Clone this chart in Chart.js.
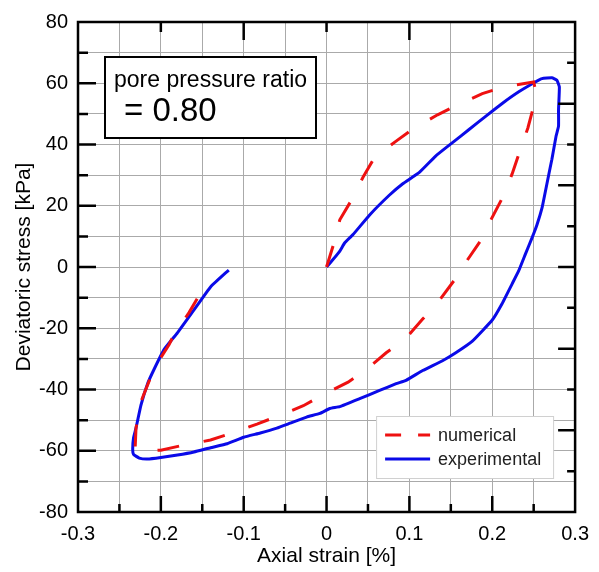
<!DOCTYPE html>
<html>
<head>
<meta charset="utf-8">
<script src="https://cdn.jsdelivr.net/npm/chart.js@4.4.0/dist/chart.umd.min.js"></script>
<style>
  html, body { margin: 0; padding: 0; background: #fff; }
  #wrap { width: 599px; height: 572px; }
</style>
</head>
<body>
<div id="wrap"><canvas id="loop"></canvas></div>
<script>
// axial strain [%] / deviatoric stress [kPa]
const strainExp = [0, 0.008, 0.016, 0.022, 0.032, 0.052, 0.076, 0.092, 0.112, 0.132, 0.152, 0.172, 0.192, 0.212, 0.232, 0.252, 0.260, 0.272, 0.278, 0.281, 0.280, 0.280, 0.277, 0.272, 0.268, 0.264, 0.260, 0.254, 0.248, 0.240, 0.232, 0.224, 0.212, 0.200, 0.176, 0.156, 0.140, 0.116, 0.096, 0.084, 0.064, 0.040, 0.016, 0.004, -0.008, -0.024, -0.044, -0.060, -0.080, -0.100, -0.120, -0.140, -0.160, -0.180, -0.200, -0.216, -0.226, -0.233, -0.234, -0.233, -0.230, -0.224, -0.216, -0.208, -0.196, -0.180, -0.160, -0.140, -0.118];
const stressExp = [0, 2.5, 5.2, 7.9, 10.6, 17, 23.5, 27.2, 30.9, 36.3, 40.6, 44.9, 49.2, 53.4, 57.2, 60.4, 61.5, 61.8, 61, 58.8, 51.3, 46, 42.7, 35.2, 29.9, 24.5, 19.2, 13.8, 9.5, 4.2, -1.2, -5.5, -11.9, -17.3, -24.2, -28, -30.6, -33.8, -37, -38.1, -40.3, -43, -45.6, -46.2, -47.8, -49, -51, -52.6, -54.2, -55.6, -57.7, -59, -60.4, -61.4, -62.2, -62.7, -62.4, -61.2, -59.5, -55.8, -52.6, -45.1, -38.1, -33.3, -26.9, -21.5, -14, -6.5, -1];

const strainNum = [0, 0.008, 0.016, 0.030, 0.044, 0.058, 0.084, 0.106, 0.134, 0.158, 0.188, 0.214, 0.250, 0.252, 0.252, 0.243, 0.234, 0.224, 0.214, 0.199, 0.187, 0.168, 0.154, 0.134, 0.116, 0.095, 0.072, 0.048, 0.026, -0.004, -0.028, -0.058, -0.084, -0.116, -0.140, -0.173, -0.200, -0.226, -0.231, -0.230, -0.224, -0.208, -0.190, -0.184, -0.166, -0.153];
const stressNum = [0, 7, 15.4, 21.8, 29.3, 35.8, 41.1, 45.4, 49.7, 52.9, 56.6, 58.8, 60.4, 58, 54.5, 45.4, 38.4, 30.4, 23.5, 15.7, 9, 1.5, -4.4, -11.7, -17, -23.5, -28, -33.5, -37.6, -41.7, -45.3, -48.6, -51.3, -54.4, -56.5, -58.2, -59.8, -60.2, -59, -52.6, -44, -33, -25.3, -22, -14.9, -8.9];

const seriesNames = ['numerical', 'experimental'];
const noteLines = ['pore pressure ratio', '= 0.80'];

const FONT = "'Liberation Sans', Arial, sans-serif";

function pairs(xs, ys) {
    return xs.map((x, i) => ({ x: x, y: ys[i] }));
}

// frame, inward tick marks, text box and legend
const decorations = {
    id: 'decorations',
    afterDraw(chart) {
        const ctx = chart.ctx;
        const area = chart.chartArea;
        const xs = chart.scales.x;
        const ys = chart.scales.y;
        ctx.save();

        ctx.strokeStyle = '#000';
        ctx.lineWidth = 2.5;
        ctx.beginPath();
        // bottom: long at 0.1, short at 0.05
        for (let k = -5; k <= 5; k++) {
            const px = xs.getPixelForValue(k * 0.05);
            const len = k % 2 === 0 ? 16 : 8;
            ctx.moveTo(px, area.bottom);
            ctx.lineTo(px, area.bottom - len);
        }
        // top: every 0.1, alternating
        for (let k = -2; k <= 2; k++) {
            const px = xs.getPixelForValue(k * 0.1);
            const len = Math.abs(k) % 2 === 1 ? 18 : 10;
            ctx.moveTo(px, area.top);
            ctx.lineTo(px, area.top + len);
        }
        // left: long at 20, short at 10
        for (let k = -7; k <= 7; k++) {
            const py = ys.getPixelForValue(k * 10);
            const len = k % 2 === 0 ? 18 : 10;
            ctx.moveTo(area.left, py);
            ctx.lineTo(area.left + len, py);
        }
        // right: steps of 80/6
        for (let k = -5; k <= 5; k++) {
            const py = ys.getPixelForValue(k * 80 / 6);
            const len = k % 2 === 0 ? 17 : 8;
            ctx.moveTo(area.right, py);
            ctx.lineTo(area.right - len, py);
        }
        ctx.stroke();

        ctx.lineWidth = 2.5;
        ctx.strokeRect(area.left, area.top, area.right - area.left, area.bottom - area.top);

        // text box
        const bx = area.left + 27, by = area.top + 35;
        ctx.fillStyle = '#fff';
        ctx.fillRect(bx, by, 211, 81);
        ctx.lineWidth = 2;
        ctx.strokeRect(bx, by, 211, 81);
        ctx.fillStyle = '#000';
        ctx.textBaseline = 'alphabetic';
        ctx.textAlign = 'left';
        ctx.font = '23px ' + FONT;
        ctx.fillText(noteLines[0], bx + 9, by + 30);
        ctx.font = '33px ' + FONT;
        ctx.fillText(noteLines[1], bx + 19, by + 64);

        // legend
        const lx = area.right - 199, ly = area.bottom - 96;
        ctx.fillStyle = '#fff';
        ctx.fillRect(lx, ly, 177, 62);
        ctx.lineWidth = 1;
        ctx.strokeStyle = '#d0d0d0';
        ctx.strokeRect(lx + 0.5, ly + 0.5, 177, 62);
        ctx.font = '18px ' + FONT;
        chart.data.datasets.forEach((ds, i) => {
            const y = ly + 19 + i * 24;
            ctx.strokeStyle = ds.borderColor;
            ctx.lineWidth = ds.borderWidth;
            ctx.setLineDash(ds.borderDash && ds.borderDash.length ? [16, 17] : []);
            ctx.beginPath();
            ctx.moveTo(lx + 9, y);
            ctx.lineTo(lx + 54, y);
            ctx.stroke();
            ctx.setLineDash([]);
            ctx.fillStyle = '#222';
            ctx.fillText(ds.label, lx + 62, y + 6);
        });

        ctx.restore();
    }
};

new Chart(document.getElementById('loop'), {
    type: 'scatter',
    data: {
        datasets: [
            {
                label: seriesNames[0],
                data: pairs(strainNum, stressNum),
                showLine: true,
                borderColor: '#ee1111',
                borderWidth: 3,
                borderDash: [22, 25],
                pointRadius: 0,
                tension: 0
            },
            {
                label: seriesNames[1],
                data: pairs(strainExp, stressExp),
                showLine: true,
                borderColor: '#0a0ae8',
                borderWidth: 3,
                borderJoinStyle: 'round',
                pointRadius: 0,
                tension: 0.12
            }
        ]
    },
    options: {
        responsive: true,
        maintainAspectRatio: false,
        devicePixelRatio: 1,
        animation: false,
        layout: { padding: { top: 14, right: 22, left: 0, bottom: 0 } },
        plugins: {
            legend: { display: false },
            tooltip: { enabled: false }
        },
        scales: {
            x: {
                type: 'linear',
                min: -0.3,
                max: 0.3,
                afterFit: s => { s.height = 60; },
                border: { display: false },
                grid: { color: '#aaaaaa', lineWidth: 1, drawTicks: false },
                ticks: {
                    stepSize: 0.05,
                    autoSkip: false,
                    maxRotation: 0,
                    padding: 10,
                    color: '#000',
                    font: { family: FONT, size: 20 },
                    callback: v => Math.round(v * 20) % 2 === 0 ? String(Math.round(v * 10) / 10) : ''
                },
                title: {
                    display: true,
                    text: 'Axial strain [%]',
                    color: '#000',
                    font: { family: FONT, size: 21 },
                    padding: { top: 0, bottom: 3 }
                }
            },
            y: {
                type: 'linear',
                min: -80,
                max: 80,
                afterFit: s => { s.width = 78; },
                border: { display: false },
                grid: { color: '#aaaaaa', lineWidth: 1, drawTicks: false },
                ticks: {
                    stepSize: 10,
                    autoSkip: false,
                    padding: 10,
                    color: '#000',
                    font: { family: FONT, size: 20 },
                    callback: v => Math.round(v) % 20 === 0 ? String(Math.round(v)) : ''
                },
                title: {
                    display: true,
                    text: 'Deviatoric stress [kPa]',
                    color: '#000',
                    font: { family: FONT, size: 21 },
                    padding: { top: 12, bottom: 0 }
                }
            }
        }
    },
    plugins: [decorations]
});
</script>
</body>
</html>
